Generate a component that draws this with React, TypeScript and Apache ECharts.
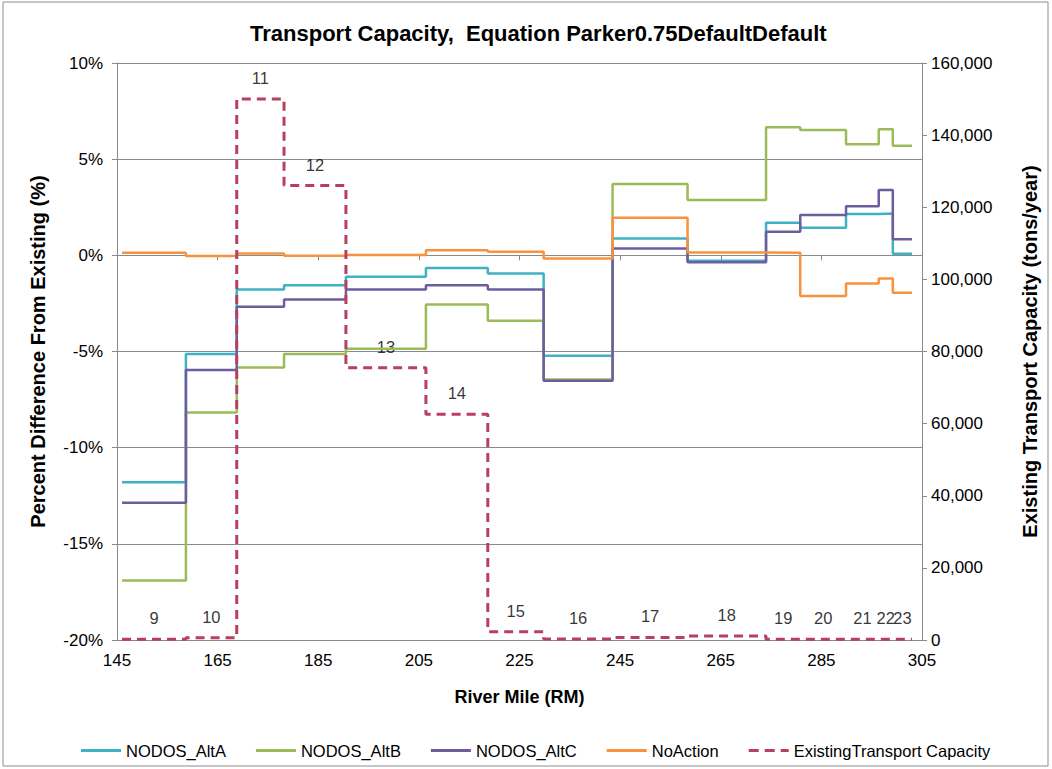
import React, { useEffect, useRef } from "react";
import * as echarts from "echarts";

// Reach numbers and their river-mile boundaries (last entry = downstream end of the last reach)
const reachIds = [9, 10, 11, 12, 13, 14, 15, 16, 17, 18, 19, 20, 21, 22, 23];
const riverMileBounds = [146, 158.7, 168.8, 178.2, 190.5, 206.4, 218.7, 229.8, 243.5, 258.4, 274.0, 280.8, 289.9, 296.4, 299.2, 303.0];

// Percent difference from existing (%), one value per reach
const altA = [-11.8, -5.13, -1.77, -1.55, -1.11, -0.66, -0.94, -5.22, 0.88, -0.28, 1.7, 1.44, 2.15, 2.18, 0.08];
const altB = [-16.9, -8.17, -5.83, -5.13, -4.86, -2.55, -3.4, -6.45, 3.71, 2.88, 6.66, 6.52, 5.77, 6.55, 5.7];
const altC = [-12.86, -5.96, -2.67, -2.29, -1.77, -1.55, -1.77, -6.52, 0.36, -0.36, 1.23, 2.1, 2.55, 3.4, 0.83];
const noAction = [0.14, -0.04, 0.1, -0.02, 0.02, 0.26, 0.19, -0.16, 1.96, 0.15, 0.14, -2.12, -1.46, -1.2, -1.94];

// Existing transport capacity (tons/year), one value per reach
const capacity = [200, 600, 150000, 126000, 75500, 62600, 2300, 300, 700, 1100, 200, 200, 200, 200, 200];

// Axis ticks
const xTicks = [145, 165, 185, 205, 225, 245, 265, 285, 305];

const FONT = "'Liberation Sans', Arial, sans-serif";
const AXIS_GRAY = "#8a8a8a";
const SOLID_ICON = "path://M0,0H40V3H0Z";
const DASH_ICON = "path://M0,0H10V3H0Z M16,0H26V3H16Z M32,0H40V3H32Z";

function stepData(vals: number[]) {
  const pts: number[][] = vals.map((v, i) => [riverMileBounds[i], v]);
  pts.push([riverMileBounds[riverMileBounds.length - 1], vals[vals.length - 1]]);
  return pts;
}

export default function App() {
  const ref = useRef<HTMLDivElement>(null);

  useEffect(() => {
    document.body.style.margin = "0";
    const chart = echarts.init(ref.current!, null, { renderer: "svg" });

    const labelPoints = reachIds.map((id, i) => ({
      value: [(riverMileBounds[i] + riverMileBounds[i + 1]) / 2, capacity[i]],
      reach: id,
    }));

    const lineSeries = (name: string, vals: number[], color: string) => ({
      name,
      type: "line",
      step: "end",
      data: stepData(vals),
      yAxisIndex: 0,
      symbol: "none",
      showSymbol: false,
      lineStyle: { color, width: 2.5 },
      itemStyle: { color },
    });

    const option: any = {
      animation: false,
      backgroundColor: "#ffffff",
      textStyle: { fontFamily: FONT },
      title: {
        text: "Transport Capacity,  Equation Parker0.75DefaultDefault",
        left: 245,
        top: 17,
        textStyle: { fontFamily: FONT, fontSize: 22, fontWeight: "bold", color: "#000" },
      },
      graphic: [
        {
          type: "rect",
          shape: { x: 3, y: 2, width: 1045, height: 764 },
          style: { fill: "none", stroke: "#8c8c8c", lineWidth: 1 },
          silent: true,
        },
      ],
      legend: {
        data: [
          { name: "NODOS_AltA", icon: SOLID_ICON },
          { name: "NODOS_AltB", icon: SOLID_ICON },
          { name: "NODOS_AltC", icon: SOLID_ICON },
          { name: "NoAction", icon: SOLID_ICON },
          { name: "ExistingTransport Capacity", icon: DASH_ICON },
        ],
        left: 76,
        top: 737,
        itemWidth: 40,
        itemHeight: 3,
        itemGap: 30,
        symbolKeepAspect: false,
        textStyle: { fontFamily: FONT, fontSize: 16.5, color: "#000" },
      },
      grid: { left: 117, right: 130, top: 63, bottom: 129, containLabel: false },
      xAxis: {
        type: "value",
        min: 145,
        max: 305,
        name: "River Mile (RM)",
        nameLocation: "middle",
        nameGap: 48,
        nameTextStyle: { fontFamily: FONT, fontSize: 18, fontWeight: "bold", color: "#000" },
        axisLine: { show: true, lineStyle: { color: AXIS_GRAY, width: 1 } },
        axisTick: { show: true, inside: false, length: 5, customValues: xTicks, lineStyle: { color: AXIS_GRAY } },
        axisLabel: { customValues: xTicks, fontFamily: FONT, fontSize: 17, color: "#000", margin: 12 },
        splitLine: { show: false },
      },
      yAxis: [
        {
          type: "value",
          min: -20,
          max: 10,
          interval: 5,
          position: "left",
          name: "Percent Difference From Existing (%)",
          nameLocation: "middle",
          nameRotate: 90,
          nameGap: 69,
          nameTextStyle: { fontFamily: FONT, fontSize: 20, fontWeight: "bold", color: "#000" },
          axisLine: { show: true, lineStyle: { color: AXIS_GRAY, width: 1 } },
          axisTick: { show: true, inside: false, length: 5, lineStyle: { color: AXIS_GRAY } },
          axisLabel: { formatter: (v: number) => `${v}%`, fontFamily: FONT, fontSize: 17, color: "#000", margin: 14 },
          splitLine: { show: true, lineStyle: { color: AXIS_GRAY, width: 1 } },
        },
        {
          type: "value",
          min: 0,
          max: 160000,
          interval: 20000,
          position: "right",
          name: "Existing Transport Capacity (tons/year)",
          nameLocation: "middle",
          nameRotate: 90,
          nameGap: 98,
          nameTextStyle: { fontFamily: FONT, fontSize: 20, fontWeight: "bold", color: "#000" },
          axisLine: { show: true, lineStyle: { color: AXIS_GRAY, width: 1 } },
          axisTick: { show: true, inside: false, length: 5, lineStyle: { color: AXIS_GRAY } },
          axisLabel: {
            formatter: (v: number) => v.toLocaleString("en-US"),
            fontFamily: FONT,
            fontSize: 17,
            color: "#000",
            margin: 9,
          },
          splitLine: { show: false },
        },
      ],
      series: [
        lineSeries("NODOS_AltA", altA, "#3fb1c5"),
        lineSeries("NODOS_AltB", altB, "#9bbb59"),
        lineSeries("NODOS_AltC", altC, "#6f5c9f"),
        lineSeries("NoAction", noAction, "#f7923f"),
        {
          name: "ExistingTransport Capacity",
          type: "line",
          step: "end",
          data: stepData(capacity),
          yAxisIndex: 1,
          symbol: "none",
          showSymbol: false,
          lineStyle: { color: "#b8405e", width: 3, type: [9, 6] },
          itemStyle: { color: "#b8405e" },
        },
        {
          name: "reachLabels",
          type: "scatter",
          yAxisIndex: 1,
          data: labelPoints,
          symbolSize: 1,
          itemStyle: { color: "rgba(0,0,0,0)" },
          silent: true,
          label: {
            show: true,
            position: "top",
            distance: 12,
            formatter: (p: any) => String(p.data.reach),
            fontFamily: FONT,
            fontSize: 16.5,
            color: "#000",
          },
        },
      ],
    };

    chart.setOption(option);
    return () => chart.dispose();
  }, []);

  return <div ref={ref} style={{ width: 1052, height: 769 }} />;
}
